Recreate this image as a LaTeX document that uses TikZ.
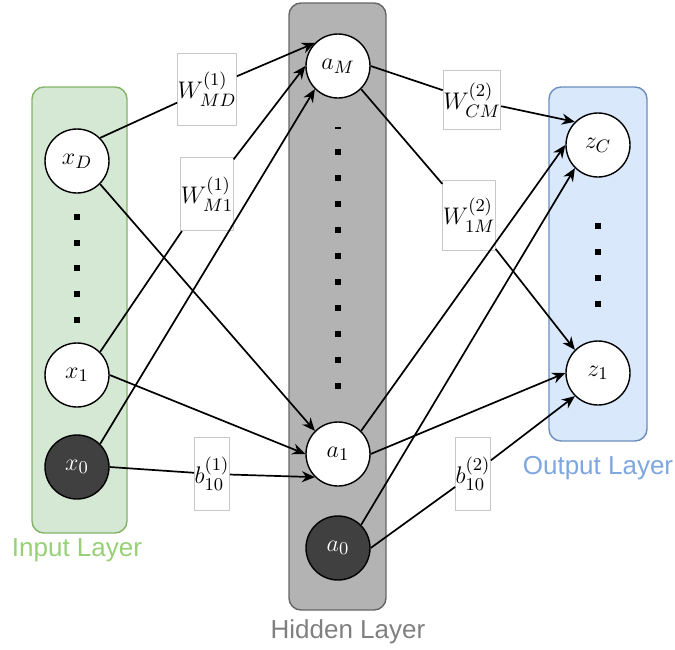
\documentclass[tikz,border=0pt]{standalone}
\usepackage{fontspec}
\newfontfamily\layerfont{Liberation Sans}
\usepackage{amsmath}
\usepackage{xcolor}
\usetikzlibrary{positioning}
\usetikzlibrary{arrows.meta}

\definecolor{infill}{HTML}{D5E8D4}
\definecolor{indraw}{HTML}{82B366}
\definecolor{intext}{HTML}{97D077}
\definecolor{hidfill}{HTML}{B3B3B3}
\definecolor{hiddraw}{HTML}{666666}
\definecolor{hidtext}{HTML}{808080}
\definecolor{outfill}{HTML}{DAE8FC}
\definecolor{outdraw}{HTML}{6C8EBF}
\definecolor{outtext}{HTML}{7EA6E0}
\definecolor{biasfill}{HTML}{404040}
\definecolor{boxdraw}{HTML}{C8C8C8}

\tikzset{
  neuron/.style={draw, circle, fill=white, line width=0.7pt, minimum size=32pt, inner sep=0pt, font=\fontsize{12.5}{14}\selectfont},
  bias/.style={neuron, fill=biasfill, text=white},
  weight/.style={draw=boxdraw, fill=white, line width=0.5pt, inner sep=0pt, font=\fontsize{12.5}{14}\selectfont},
  dotsq/.style={fill=black, minimum size=3pt, inner sep=0pt},
  edge/.style={-{Stealth[length=6.5pt,width=5.5pt]}, line width=0.85pt},
  layerlabel/.style={font=\layerfont\fontsize{13}{15}\selectfont}
}

\begin{document}
\begin{tikzpicture}[x=0.5pt,y=-0.5pt]
            \useasboundingbox (0,0) rectangle (675,649);
            % Layer boxes
            \draw[fill=infill, draw=indraw, line width=0.7pt, rounded corners=6pt] (32,87) rectangle (127,533);
            \draw[fill=hidfill, draw=hiddraw, line width=0.7pt, rounded corners=6pt] (289,3) rectangle (386,610);
            \draw[fill=outfill, draw=outdraw, line width=0.7pt, rounded corners=6pt] (549,87) rectangle (647,441);

            \node[layerlabel, text=intext] (inname) at (77,550) {Input Layer};
            \node[layerlabel, text=hidtext] (hidname) at (348,632) {Hidden Layer};
            \node[layerlabel, text=outtext] (outname) at (598,468) {Output Layer};

            % Neurons
            \node[neuron] (xD) at (77,161) {$x_D$};
            \node[neuron] (x1) at (77,375) {$x_1$};
            \node[bias] (x0) at (77,467) {$x_0$};

            \node[neuron] (aM) at (338,66) {$a_M$};
            \node[neuron] (a1) at (338,454) {$a_1$};
            \node[bias] (a0) at (338,548) {$a_0$};

            \node[neuron] (zC) at (598,145) {$z_C$};
            \node[neuron] (z1) at (598,373) {$z_1$};

            % Dots
            \foreach \y in {217,243,268,294,320}
                \node[dotsq] (indot\y) at (77,\y) {};
            \node[fill=black, minimum width=3pt, minimum height=1pt, inner sep=0pt] (hiddash) at (338,128) {};
            \foreach \y in {152,178,...,386}
                \node[dotsq] (hiddot\y) at (338,\y) {};
            \foreach \y in {226,252,278,304}
                \node[dotsq] (outdot\y) at (598,\y) {};

            % Weight labels
            \node[weight, minimum width=25pt, minimum height=36pt] (wMD) at (207,89) {$W^{(1)}_{MD}$};
            \node[weight, minimum width=24pt, minimum height=36.5pt] (wM1) at (207,194) {$W^{(1)}_{M1}$};
            \node[weight, minimum width=15.5pt, minimum height=36.5pt] (bA) at (212,474) {$b^{(1)}_{10}$};
            \node[weight, minimum width=25.5pt, minimum height=29.5pt] (wCM) at (472,100) {$W^{(2)}_{CM}$};
            \node[weight, minimum width=23.5pt, minimum height=35pt] (w1M) at (469,215) {$W^{(2)}_{1M}$};
            \node[weight, minimum width=16pt, minimum height=36.5pt] (bB) at (473,474) {$b^{(2)}_{10}$};

            % Connections
            \draw[edge] (xD.45) -- (wMD) -- (aM.135);
            \draw[edge] (xD.-45) -- (a1.135);
            \draw[edge] (x1.45) -- (wM1) -- (aM.180);
            \draw[edge] (x1.0) -- (a1.180);
            \draw[edge] (x0.45) -- (aM.225);
            \draw[edge] (x0.0) -- (bA) -- (a1.225);
            \draw[edge] (aM.0) -- (wCM) -- (zC.135);
            \draw[edge] (aM.-45) -- (w1M) -- (z1.135);
            \draw[edge] (a1.45) -- (zC.180);
            \draw[edge] (a1.0) -- (z1.180);
            \draw[edge] (a0.45) -- (zC.225);
            \draw[edge] (a0.0) -- (bB) -- (z1.225);
        \end{tikzpicture}
\end{document}
